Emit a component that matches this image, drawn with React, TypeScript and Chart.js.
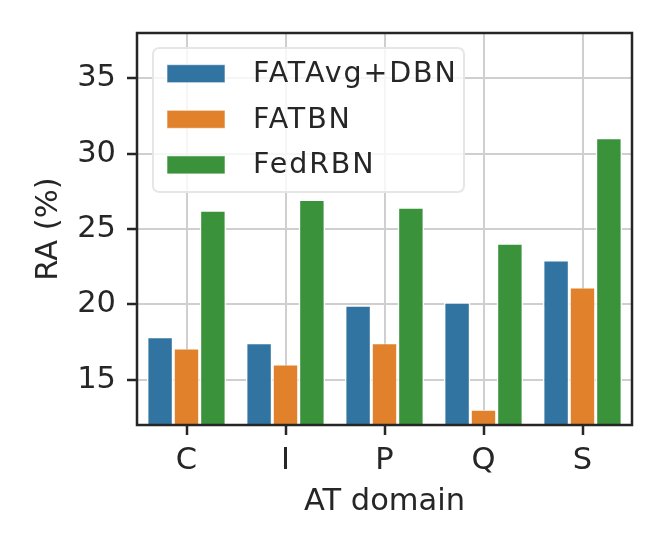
import { useEffect, useRef } from "react"
import { Chart, registerables } from "chart.js"

Chart.register(...registerables)

const domains = ["C", "I", "P", "Q", "S"]
const fatAvgDbn = [17.8, 17.4, 19.9, 20.1, 22.9]
const fatBn = [17.05, 16.0, 17.4, 13.0, 21.1]
const fedRbn = [26.2, 26.9, 26.4, 24.0, 31.0]
const yTicks = [15, 20, 25, 30, 35]
const seriesNames = ["FATAvg+DBN", "FATBN", "FedRBN"]
const seriesColors = ["#3274a1", "#e1812c", "#3a923a"]

const ink = "#262626"
const font = "'DejaVu Sans', sans-serif"

// matplotlib-like spines round the whole plot area
const framePlugin = {
	id: "frame",
	afterDatasetsDraw(chart: any) {
		const { ctx, chartArea: a } = chart
		ctx.save()
		ctx.strokeStyle = ink
		ctx.lineWidth = 2.5
		ctx.strokeRect(a.left, a.top, a.right - a.left, a.bottom - a.top)
		ctx.restore()
	}
}

// legend box sitting inside the plot, upper left
const legendPlugin = {
	id: "innerLegend",
	afterDraw(chart: any) {
		const { ctx, chartArea: a } = chart
		const x = a.left + 16
		const y = a.top + 15
		const w = 311
		const h = 144
		ctx.save()
		ctx.beginPath()
		ctx.roundRect(x, y, w, h, 6)
		ctx.fillStyle = "rgba(255,255,255,0.8)"
		ctx.fill()
		ctx.strokeStyle = "#e6e6e6"
		ctx.lineWidth = 2
		ctx.stroke()
		ctx.font = `28.5px ${font}`
		ctx.letterSpacing = "1.9px"
		ctx.textBaseline = "middle"
		chart.data.datasets.forEach((ds: any, i: number) => {
			const cy = a.top + 40.7 + i * 45.6
			ctx.fillStyle = ds.backgroundColor
			ctx.fillRect(a.left + 30, cy - 9, 58, 18)
			ctx.strokeStyle = "rgba(255,255,255,0.6)"
			ctx.lineWidth = 1
			ctx.strokeRect(a.left + 30, cy - 9, 58, 18)
			ctx.fillStyle = ink
			ctx.fillText(ds.label, a.left + 116, cy + 1)
		})
		ctx.restore()
	}
}

export default function App() {
	const canvasRef = useRef<HTMLCanvasElement>(null)

	useEffect(() => {
		const ctx = canvasRef.current?.getContext("2d") as CanvasRenderingContext2D
		const values = [fatAvgDbn, fatBn, fedRbn]
		const chart = new Chart(ctx, {
			type: "bar",
			data: {
				labels: domains,
				datasets: values.map((v, i) => ({
					label: seriesNames[i],
					data: v,
					backgroundColor: seriesColors[i],
					borderColor: "#ffffff",
					borderWidth: { top: 0.75, left: 1.5, right: 1.5, bottom: 0 },
					borderSkipped: "start",
					categoryPercentage: 0.8,
					barPercentage: 1
				}))
			},
			options: {
				responsive: false,
				animation: false,
				layout: { padding: { left: 0, right: 32, top: 33, bottom: 0 } },
				plugins: {
					legend: { display: false },
					tooltip: { enabled: false }
				},
				scales: {
					x: {
						type: "category",
						afterFit: (s: any) => {
							s.height = 129
						},
						grid: {
							offset: false,
							color: "#cfcfcf",
							lineWidth: 2,
							tickColor: ink,
							tickWidth: 2.5,
							tickLength: 10
						},
						border: { display: false },
						ticks: {
							color: ink,
							padding: 8,
							font: { family: font, size: 30.5 }
						},
						title: {
							display: true,
							text: "AT domain",
							color: ink,
							font: { family: font, size: 30.5 },
							padding: { top: 0, bottom: 34 }
						}
					},
					y: {
						min: 12,
						max: 38,
						afterFit: (s: any) => {
							s.width = 137
						},
						afterBuildTicks: (s: any) => {
							s.ticks = yTicks.map((v) => ({ value: v }))
						},
						grid: {
							color: "#cfcfcf",
							lineWidth: 2,
							tickColor: ink,
							tickWidth: 2.5,
							tickLength: 10
						},
						border: { display: false },
						ticks: {
							color: ink,
							padding: 11,
							font: { family: font, size: 30.5 }
						},
						title: {
							display: true,
							text: "RA (%)",
							color: ink,
							font: { family: font, size: 30.5 },
							padding: { top: 31, bottom: 0 }
						}
					}
				}
			},
			plugins: [framePlugin, legendPlugin]
		})

		return () => {
			chart.destroy()
		}
	}, [])

	return (
		<div style={{ position: "absolute", left: 0, top: 0, width: 664, height: 554 }}>
			<canvas ref={canvasRef} width={664} height={554}>
				Your browser does not support the canvas element.
			</canvas>
		</div>
	)
}
